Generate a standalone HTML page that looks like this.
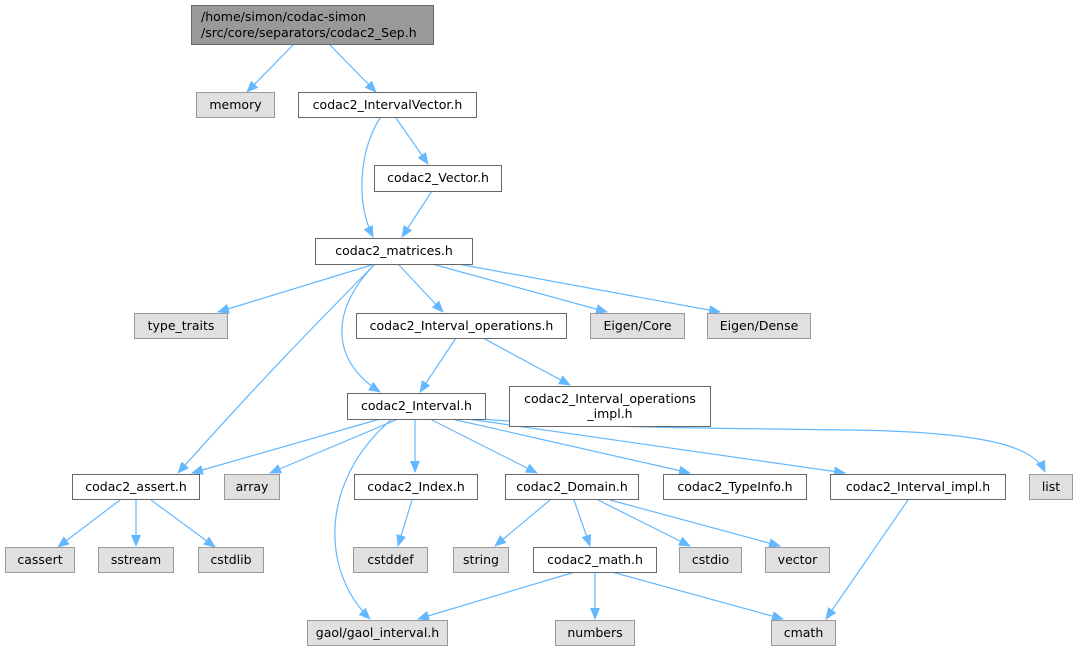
<!DOCTYPE html>
<html><head><meta charset="utf-8"><style>
html,body{margin:0;padding:0;background:#fff;}
svg text{font-family:"DejaVu Sans","Liberation Sans",sans-serif;font-size:12.5px;fill:#000;}
</style></head><body>
<svg width="1077" height="652" viewBox="0 0 1077 652" xmlns="http://www.w3.org/2000/svg">
<defs><marker id="a" markerWidth="12" markerHeight="10" refX="11" refY="5" orient="auto" markerUnits="userSpaceOnUse"><path d="M0,0 L12,5 L0,10 Z" fill="#63b8ff"/></marker></defs>
<g fill="none" stroke="#63b8ff" stroke-width="1.2" marker-end="url(#a)">
<path d="M293,45 L247,92"/>
<path d="M330,45 L376,92"/>
<path d="M380,118 C360,150 355,200 373,237"/>
<path d="M396,118 L428,164"/>
<path d="M432,191 L402,237"/>
<path d="M375,264 L218,312"/>
<path d="M398,264 L443,312"/>
<path d="M432,264 L607,312"/>
<path d="M458,264 L720,312"/>
<path d="M375,264 C320,320 270,370 178,473"/>
<path d="M375,264 C330,310 330,360 380,392"/>
<path d="M456,338 L420,392"/>
<path d="M483,338 L570,385"/>
<path d="M380,419 L192,473"/>
<path d="M398,419 L270,473"/>
<path d="M415,419 L415,472"/>
<path d="M430,419 L537,473"/>
<path d="M452,419 L690,473"/>
<path d="M468,419 L845,473"/>
<path d="M480,419 C600,428 700,428 850,430 C1000,432 1035,450 1045,472"/>
<path d="M392,419 C320,480 320,570 370,619"/>
<path d="M120,500 L58,547"/>
<path d="M136,500 L136,546"/>
<path d="M151,500 L215,547"/>
<path d="M412,500 L398,546"/>
<path d="M550,500 L495,546"/>
<path d="M574,500 L590,546"/>
<path d="M598,500 L690,546"/>
<path d="M610,500 L780,546"/>
<path d="M575,572 L418,619"/>
<path d="M595,572 L595,619"/>
<path d="M612,572 L783,619"/>
<path d="M908,500 L826,619"/>
</g>
<g stroke-width="1">
<rect x="191.5" y="5.5" width="242" height="39" fill="#999" stroke="#666"/>
<rect x="196.5" y="92.5" width="78" height="25" fill="#e0e0e0" stroke="#999"/>
<rect x="298.5" y="92.5" width="178" height="25" fill="#fff" stroke="#666"/>
<rect x="374.5" y="165.5" width="127" height="26" fill="#fff" stroke="#666"/>
<rect x="315.5" y="238.5" width="157" height="26" fill="#fff" stroke="#666"/>
<rect x="134.5" y="313.5" width="93" height="25" fill="#e0e0e0" stroke="#999"/>
<rect x="356.5" y="313.5" width="210" height="25" fill="#fff" stroke="#666"/>
<rect x="590.5" y="313.5" width="94" height="25" fill="#e0e0e0" stroke="#999"/>
<rect x="707.5" y="313.5" width="103" height="25" fill="#e0e0e0" stroke="#999"/>
<rect x="347.5" y="393.5" width="138" height="26" fill="#fff" stroke="#666"/>
<rect x="509.5" y="386.5" width="201" height="40" fill="#fff" stroke="#666"/>
<rect x="72.5" y="474.5" width="127" height="25" fill="#fff" stroke="#666"/>
<rect x="224.5" y="474.5" width="55" height="25" fill="#e0e0e0" stroke="#999"/>
<rect x="354.5" y="474.5" width="123" height="25" fill="#fff" stroke="#666"/>
<rect x="505.5" y="474.5" width="133" height="25" fill="#fff" stroke="#666"/>
<rect x="663.5" y="474.5" width="143" height="25" fill="#fff" stroke="#666"/>
<rect x="830.5" y="474.5" width="175" height="25" fill="#fff" stroke="#666"/>
<rect x="1029.5" y="474.5" width="43" height="25" fill="#e0e0e0" stroke="#999"/>
<rect x="5.5" y="547.5" width="69" height="25" fill="#e0e0e0" stroke="#999"/>
<rect x="98.5" y="547.5" width="75" height="25" fill="#e0e0e0" stroke="#999"/>
<rect x="198.5" y="547.5" width="65" height="25" fill="#e0e0e0" stroke="#999"/>
<rect x="353.5" y="547.5" width="74" height="25" fill="#e0e0e0" stroke="#999"/>
<rect x="453.5" y="547.5" width="55" height="25" fill="#e0e0e0" stroke="#999"/>
<rect x="533.5" y="547.5" width="123" height="25" fill="#fff" stroke="#666"/>
<rect x="679.5" y="547.5" width="62" height="25" fill="#e0e0e0" stroke="#999"/>
<rect x="765.5" y="547.5" width="64" height="25" fill="#e0e0e0" stroke="#999"/>
<rect x="307.5" y="620.5" width="140" height="25" fill="#e0e0e0" stroke="#999"/>
<rect x="555.5" y="620.5" width="79" height="25" fill="#e0e0e0" stroke="#999"/>
<rect x="771.5" y="620.5" width="64" height="25" fill="#e0e0e0" stroke="#999"/>
</g>
<g>
<text x="201" y="21">/home/simon/codac-simon</text>
<text x="201" y="37">/src/core/separators/codac2_Sep.h</text>
</g>
<g text-anchor="middle">
<text x="235.5" y="109">memory</text>
<text x="387.5" y="109">codac2_IntervalVector.h</text>
<text x="438" y="182">codac2_Vector.h</text>
<text x="394" y="255">codac2_matrices.h</text>
<text x="181" y="330">type_traits</text>
<text x="461.5" y="330">codac2_Interval_operations.h</text>
<text x="637.5" y="330">Eigen/Core</text>
<text x="759" y="330">Eigen/Dense</text>
<text x="416.5" y="410">codac2_Interval.h</text>
<text x="610" y="403">codac2_Interval_operations</text>
<text x="610" y="418">_impl.h</text>
<text x="136" y="491">codac2_assert.h</text>
<text x="252" y="491">array</text>
<text x="416" y="491">codac2_Index.h</text>
<text x="572" y="491">codac2_Domain.h</text>
<text x="735" y="491">codac2_TypeInfo.h</text>
<text x="918" y="491">codac2_Interval_impl.h</text>
<text x="1051" y="491">list</text>
<text x="40" y="564">cassert</text>
<text x="136" y="564">sstream</text>
<text x="231" y="564">cstdlib</text>
<text x="390.5" y="564">cstddef</text>
<text x="481" y="564">string</text>
<text x="595" y="564">codac2_math.h</text>
<text x="710.5" y="564">cstdio</text>
<text x="797.5" y="564">vector</text>
<text x="377.5" y="637">gaol/gaol_interval.h</text>
<text x="595" y="637">numbers</text>
<text x="803.5" y="637">cmath</text>
</g>
</svg>
</body></html>
